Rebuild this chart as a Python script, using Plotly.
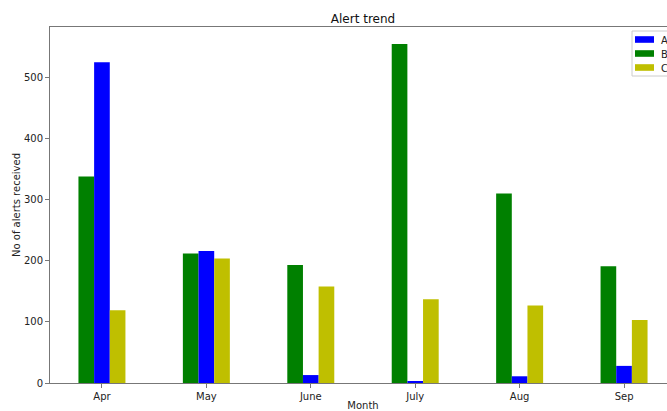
import plotly.graph_objects as go

months = ["Apr", "May", "June", "July", "Aug", "Sep"]
series_a = [525, 216, 13, 3, 11, 28]
series_b = [338, 212, 193, 555, 310, 191]
series_c = [119, 204, 158, 137, 127, 103]
legend_names = ["A", "B", "C"]

colors = {"A": "#0000ff", "B": "#008000", "C": "#bfbf00"}
FONT = "DejaVu Sans"

fig = go.Figure()
# drawing order left-to-right inside each group: B, A, C
fig.add_trace(go.Bar(name="B", x=months, y=series_b, marker_color=colors["B"],
                     marker_line_width=0))
fig.add_trace(go.Bar(name="A", x=months, y=series_a, marker_color=colors["A"],
                     marker_line_width=0))
fig.add_trace(go.Bar(name="C", x=months, y=series_c, marker_color=colors["C"],
                     marker_line_width=0))

# page margin is removed by the post script, so figure coords = screen coords
W, H = 676, 411
L, T = 50, 27
PB, PR = 383, 676
B = H - PB
x0, x1 = -0.4975, 5.4975
y0, y1 = 0, 582.75


def px(sx):
    return (sx - L) / (PR - L)


def py(sy):
    return (PB - sy) / (PB - T)


shapes = []
annotations = []
# legend frame (extends past the right edge, as in the reference)
shapes.append(dict(type="rect", xref="paper", yref="paper",
                   x0=px(632), x1=px(700), y0=py(76), y1=py(31),
                   line=dict(color="#cccccc", width=1), fillcolor="white", layer="below"))
for i, name in enumerate(legend_names):
    cy = 39.5 + 14 * i
    shapes.append(dict(type="rect", xref="paper", yref="paper",
                       x0=px(635), x1=px(654), y0=py(cy + 3.3), y1=py(cy - 3.3),
                       line=dict(width=0), fillcolor=colors[name], layer="below"))
    annotations.append(dict(text=name, xref="paper", yref="paper",
                            x=px(661), y=py(cy + 0.5), xanchor="left", yanchor="middle",
                            showarrow=False, borderpad=0, borderwidth=0,
                            font=dict(family=FONT, size=10, color="#222")))

fig.update_layout(
    width=W, height=H,
    margin=dict(l=L, r=W - PR, t=T, b=B, pad=0, autoexpand=False),
    paper_bgcolor="white", plot_bgcolor="white",
    barmode="group", bargap=0.55, bargroupgap=0,
    font=dict(family=FONT, size=10, color="#222"),
    title=dict(text="Alert trend", x=363 / W, xref="container", xanchor="center",
               y=1 - 18.5 / H, yref="container", yanchor="middle",
               font=dict(family=FONT, size=12, color="#111")),
    showlegend=False,
    shapes=shapes,
    annotations=annotations,
    xaxis=dict(range=[x0, x1], showgrid=False, zeroline=False,
               showline=True, linecolor="#777", linewidth=1, mirror=True,
               ticks="outside", ticklen=4, tickcolor="#777",
               tickfont=dict(size=10), fixedrange=True,
               title=dict(text="Month", standoff=8, font=dict(size=10))),
    yaxis=dict(range=[y0, y1], showgrid=False, zeroline=False,
               showline=True, linecolor="#777", linewidth=1,
               ticks="outside", ticklen=4, tickcolor="#777",
               tickvals=[0, 100, 200, 300, 400, 500], tickfont=dict(size=10),
               title=dict(text="No of alerts received", standoff=1, font=dict(size=10))),
)

post = ("document.documentElement.style.overflow='hidden';"
        "document.body.style.margin='0px';"
        "document.body.style.overflow='hidden';")
fig.write_html("out.html", post_script=post, config={"displayModeBar": False})
